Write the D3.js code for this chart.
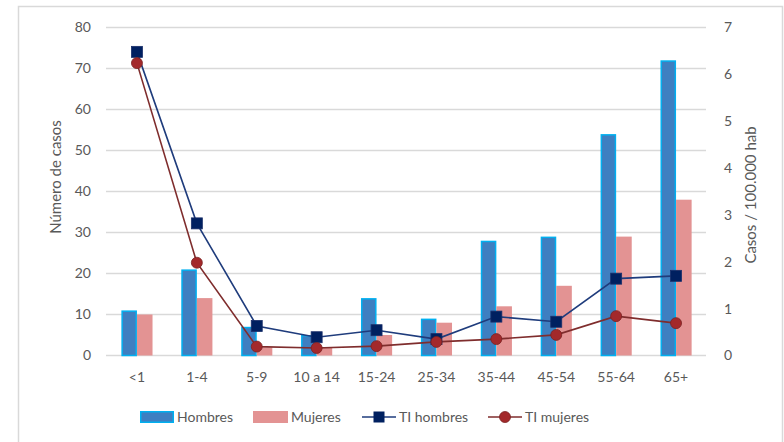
<!DOCTYPE html>
<html>
<head>
<meta charset="utf-8">
<script src="https://cdn.jsdelivr.net/npm/d3@7/dist/d3.min.js"></script>
<style>
  html, body { margin: 0; padding: 0; background: #fff; }
  svg text { font-family: Lato, "Open Sans", sans-serif; fill: #595959; }
</style>
</head>
<body>
<svg id="chart" width="784" height="442"></svg>
<script>
// Age groups
const categories = ["<1", "1-4", "5-9", "10 a 14", "15-24", "25-34", "35-44", "45-54", "55-64", "65+"];
// Number of cases
const hombres = [11, 21, 7, 5, 14, 9, 28, 29, 54, 72];
const mujeres = [10, 14, 2, 2, 5, 8, 12, 17, 29, 38];
// Incidence rate per 100.000 inhabitants
const tiHombres = [6.48, 2.82, 0.63, 0.39, 0.54, 0.35, 0.83, 0.72, 1.64, 1.70];
const tiMujeres = [6.24, 1.98, 0.19, 0.16, 0.20, 0.29, 0.35, 0.44, 0.84, 0.69];
// Axis ticks
const leftTicks = [0, 10, 20, 30, 40, 50, 60, 70, 80];
const rightTicks = [0, 1, 2, 3, 4, 5, 6, 7];

const svg = d3.select("#chart");
const plotL = 107, plotR = 706, plotT = 27.5, plotB = 355.5;

// frame
svg.append("rect").attr("x", 18.5).attr("y", 6.5).attr("width", 764).attr("height", 450)
  .attr("fill", "none").attr("stroke", "#d9d9d9").attr("stroke-width", 1.5);

const x = d3.scaleBand().domain(categories).range([plotL, plotR])
  .paddingInner(0.48).paddingOuter(0.24);
const x1 = d3.scaleBand().domain(["h", "m"]).range([0, x.bandwidth()]);
const yL = d3.scaleLinear().domain([0, 80]).range([plotB, plotT]);
const yR = d3.scaleLinear().domain([0, 7]).range([plotB, plotT]);

// gridlines
svg.append("g").selectAll("line").data(leftTicks).join("line")
  .attr("x1", plotL - 1).attr("x2", plotR)
  .attr("y1", d => yL(d)).attr("y2", d => yL(d))
  .attr("stroke", "#d9d9d9").attr("stroke-width", 1.3);

function styleAxis(g) {
  g.select(".domain").remove();
  g.selectAll("text").attr("font-size", 14)
    .style("font-family", "Lato, sans-serif").attr("fill", "#595959");
}

// left axis labels
svg.append("g").attr("transform", `translate(${plotL},0)`)
  .call(d3.axisLeft(yL).tickValues(leftTicks).tickFormat(d3.format("d")).tickSize(0).tickPadding(16))
  .call(styleAxis);

// right axis labels
svg.append("g").attr("transform", `translate(${plotR},0)`)
  .call(d3.axisRight(yR).tickValues(rightTicks).tickFormat(d3.format("d")).tickSize(0).tickPadding(18))
  .call(styleAxis);

// bottom category labels
svg.append("g").attr("transform", `translate(0,${plotB})`)
  .call(d3.axisBottom(x).tickSize(0).tickPadding(17))
  .call(styleAxis);

// axis titles
svg.append("text").attr("transform", "translate(61,177) rotate(-90)")
  .attr("text-anchor", "middle").attr("font-size", 15).text("Número de casos");
svg.append("text").attr("transform", "translate(756,195) rotate(-90)")
  .attr("text-anchor", "middle").attr("font-size", 15).text("Casos / 100.000 hab");

// bars
const gBars = svg.append("g");
gBars.selectAll("rect.h").data(hombres).join("rect").attr("class", "h")
  .attr("x", (d, i) => x(categories[i]) + x1("h") + 0.75)
  .attr("width", x1.bandwidth() - 1.5)
  .attr("y", d => yL(d) + 0.75)
  .attr("height", d => plotB - yL(d) - 0.75)
  .attr("fill", "#3e7fc1").attr("stroke", "#00b0f0").attr("stroke-width", 1.5);
gBars.selectAll("rect.m").data(mujeres).join("rect").attr("class", "m")
  .attr("x", (d, i) => x(categories[i]) + x1("m"))
  .attr("width", x1.bandwidth())
  .attr("y", d => yL(d))
  .attr("height", d => plotB - yL(d))
  .attr("fill", "#e39393");

const cx = i => x(categories[i]) + x.bandwidth() / 2;

// TI hombres
svg.append("path").datum(tiHombres)
  .attr("d", d3.line().x((d, i) => cx(i)).y(d => yR(d)))
  .attr("fill", "none").attr("stroke", "#1f3c7c").attr("stroke-width", 1.6);
// TI mujeres
svg.append("path").datum(tiMujeres)
  .attr("d", d3.line().x((d, i) => cx(i)).y(d => yR(d)))
  .attr("fill", "none").attr("stroke", "#7f2d2d").attr("stroke-width", 1.6);

svg.append("g").selectAll("rect").data(tiHombres).join("rect")
  .attr("x", (d, i) => cx(i) - 5.5).attr("y", d => yR(d) - 5.5)
  .attr("width", 11).attr("height", 11)
  .attr("fill", "#002060").attr("stroke", "#1a2f6a").attr("stroke-width", 0.8);
svg.append("g").selectAll("circle").data(tiMujeres).join("circle")
  .attr("cx", (d, i) => cx(i)).attr("cy", d => yR(d)).attr("r", 5.5)
  .attr("fill", "#a3292b").attr("stroke", "#7a2222").attr("stroke-width", 0.8);

// legend
const ly = 417;
const leg = svg.append("g");
leg.append("rect").attr("x", 140.75).attr("y", ly - 5.25).attr("width", 32.5).attr("height", 10.5)
  .attr("fill", "#3e7fc1").attr("stroke", "#00b0f0").attr("stroke-width", 1.5);
leg.append("text").attr("x", 177).attr("y", ly + 5).attr("font-size", 14).text("Hombres");

leg.append("rect").attr("x", 253).attr("y", ly - 6).attr("width", 35).attr("height", 12)
  .attr("fill", "#e39393");
leg.append("text").attr("x", 291).attr("y", ly + 5).attr("font-size", 14).text("Mujeres");

leg.append("line").attr("x1", 362).attr("x2", 396).attr("y1", ly).attr("y2", ly)
  .attr("stroke", "#1f3c7c").attr("stroke-width", 1.6);
leg.append("rect").attr("x", 373.5).attr("y", ly - 5.5).attr("width", 11).attr("height", 11)
  .attr("fill", "#002060");
leg.append("text").attr("x", 399).attr("y", ly + 5).attr("font-size", 14).text("TI hombres");

leg.append("line").attr("x1", 488).attr("x2", 522).attr("y1", ly).attr("y2", ly)
  .attr("stroke", "#7f2d2d").attr("stroke-width", 1.6);
leg.append("circle").attr("cx", 505).attr("cy", ly).attr("r", 5.5)
  .attr("fill", "#a3292b").attr("stroke", "#7a2222").attr("stroke-width", 0.8);
leg.append("text").attr("x", 525).attr("y", ly + 5).attr("font-size", 14).text("TI mujeres");
</script>
</body>
</html>
